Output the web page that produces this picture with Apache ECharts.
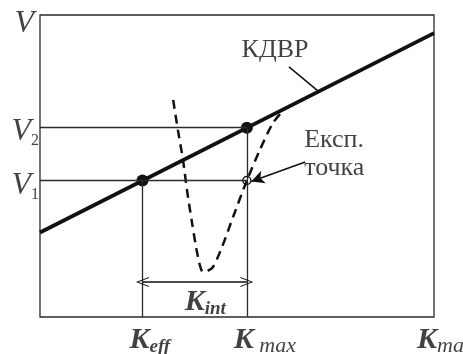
<!DOCTYPE html>
<html>
<head>
<meta charset="utf-8">
<script src="https://cdn.jsdelivr.net/npm/echarts@6/dist/echarts.min.js"></script>
<style>
  html, body { margin: 0; padding: 0; background: #fff; }
  #chart { width: 463px; height: 354px; }
</style>
</head>
<body>
<div id="chart"></div>
<script>
// Normalised axes: both run from 0 to 10
const xRange = [0, 10];
const yRange = [0, 10];

// Characteristic points
const Keff = 2.6;
const Kmax = 5.25;
const V1 = 4.52;
const V2 = 6.27;

// Straight КДВР line (end points)
const kdvrLine = [[0, 2.8], [10, 9.4]];

// Experimental dashed curve
const expCurve = [
  [3.38, 7.19], [3.50, 6.19], [3.63, 5.20], [3.73, 4.21], [3.86, 3.11],
  [4.01, 1.99], [4.14, 1.49], [4.37, 1.62], [4.62, 2.32], [4.90, 3.31],
  [5.25, 4.52], [5.58, 5.53], [5.91, 6.42], [6.22, 6.90]
];

// Level of the K_int double arrow
const kintLevel = 1.16;

// Leader from the КДВР caption to the line, and pointer to the experimental point
const kdvrLeader = [[6.32, 8.28], [7.06, 7.48]];
const expPointer = [[6.73, 5.13], [5.36, 4.49]];

// Caption texts
const kdvrText = 'КДВР';
const expText = ['Експ.', 'точка'];

const serif = 'Liberation Serif';
const ink = '#111';
const thin = '#2a2a2a';

const chart = echarts.init(document.getElementById('chart'), null, { renderer: 'canvas' });

const rich = {
  V: { fontFamily: serif, fontStyle: 'italic', fontSize: 32, color: ink, lineHeight: 34 },
  vs: { fontFamily: serif, fontSize: 16, color: ink, lineHeight: 34, verticalAlign: 'bottom', padding: [12, 0, 0, 0] },
  K: { fontFamily: serif, fontStyle: 'italic', fontWeight: 'bold', fontSize: 30, color: ink, lineHeight: 34 },
  kb: { fontFamily: serif, fontStyle: 'italic', fontWeight: 'bold', fontSize: 19, color: ink, lineHeight: 34, verticalAlign: 'bottom', padding: [8, 0, 0, 0] },
  km: { fontFamily: serif, fontStyle: 'italic', fontSize: 22, color: ink, lineHeight: 34, verticalAlign: 'bottom', padding: [8, 0, 0, 0] },
  cap: { fontFamily: serif, fontSize: 26, color: ink, lineHeight: 28 }
};

// Text annotations anchored at data coordinates
function note(x, y, text, align, offset) {
  return {
    value: [x, y],
    label: { show: true, formatter: text, align: align, verticalAlign: 'middle', offset: offset, rich: rich, position: 'inside' }
  };
}

const yMax = yRange[1];
const xMax = xRange[1];

const notes = [
  note(0, yMax, '{V|V}', 'right', [-6, 9]),
  note(0, V2, '{V|V}{vs|2}', 'right', [-1, 4]),
  note(0, V1, '{V|V}{vs|1}', 'right', [-1, 5]),
  note(Keff, 0, '{K|K}{kb|eff}', 'left', [-13, 23]),
  note(Kmax, 0, '{K|K}{km| max}', 'left', [-13, 23]),
  note(xMax, 0, '{K|K}{km|max}', 'left', [-17, 23]),
  note((Keff + Kmax) / 2, kintLevel, '{K|K}{kb|int}', 'left', [-10, 20]),
  note(kdvrLeader[0][0], kdvrLeader[0][1], '{cap|' + kdvrText + '}', 'center', [-14, -17]),
  note(expPointer[0][0], expPointer[0][1], '{cap|' + expText[0] + '}', 'left', [-1, -22]),
  note(expPointer[0][0], expPointer[0][1], '{cap|' + expText[1] + '}', 'left', [-1, 6])
];

const chevron = 'path://M0,0 L10,20 L8,20 L0,4 L-8,20 L-10,20 Z';

chart.setOption({
  animation: false,
  backgroundColor: '#fff',
  grid: { left: 40, top: 15, right: 29, bottom: 37, show: true, borderColor: thin, borderWidth: 1.3, backgroundColor: 'transparent' },
  xAxis: {
    type: 'value', min: xRange[0], max: xRange[1],
    axisLine: { show: false }, axisTick: { show: false }, axisLabel: { show: false }, splitLine: { show: false }
  },
  yAxis: {
    type: 'value', min: yRange[0], max: yRange[1],
    axisLine: { show: false }, axisTick: { show: false }, axisLabel: { show: false }, splitLine: { show: false }
  },
  series: [
    {
      // guide lines to V1, V2, Keff, Kmax and the annotation arrows
      type: 'line', data: [], silent: true,
      markLine: {
        silent: true, symbol: ['none', 'none'], label: { show: false },
        lineStyle: { color: thin, width: 1.3, type: 'solid' },
        data: [
          [{ coord: [0, V1] }, { coord: [Kmax, V1] }],
          [{ coord: [0, V2] }, { coord: [Kmax, V2] }],
          [{ coord: [Keff, 0] }, { coord: [Keff, V1] }],
          [{ coord: [Kmax, 0] }, { coord: [Kmax, V2] }],
          [{ coord: kdvrLeader[0] }, { coord: kdvrLeader[1], lineStyle: { width: 1.5, color: ink } }],
          [{ coord: [Keff, kintLevel], symbol: chevron }, { coord: [Kmax, kintLevel], symbol: chevron, lineStyle: { width: 1.6, color: ink } }],
          [{ coord: expPointer[0] }, { coord: expPointer[1], symbol: 'arrow', lineStyle: { width: 1.6, color: ink } }]
        ],
        symbolSize: [10, 13]
      }
    },
    {
      name: 'КДВР', type: 'line', data: kdvrLine, showSymbol: false, silent: true,
      lineStyle: { color: ink, width: 3.8 }
    },
    {
      name: 'Експ.', type: 'line', data: expCurve, showSymbol: false, smooth: 0.25, silent: true,
      lineStyle: { color: ink, width: 2.5, type: [9, 6] }
    },
    {
      type: 'scatter', silent: true, symbol: 'circle', symbolSize: 12,
      itemStyle: { color: ink, opacity: 1 },
      data: [[Keff, V1], [Kmax, V2]]
    },
    {
      type: 'scatter', silent: true, symbol: 'circle', symbolSize: 8,
      itemStyle: { color: '#fff', borderColor: ink, borderWidth: 1.4, opacity: 1 },
      data: [[Kmax, V1]]
    },
    {
      type: 'scatter', silent: true, symbolSize: 0, clip: false,
      itemStyle: { color: 'transparent' },
      data: notes
    }
  ]
});
</script>
</body>
</html>
